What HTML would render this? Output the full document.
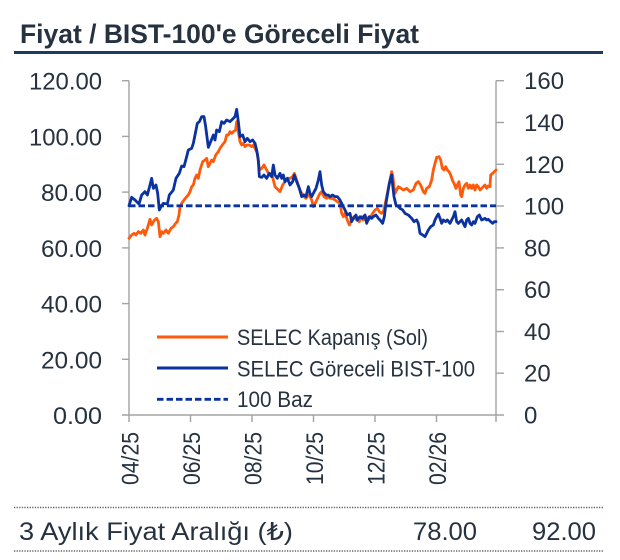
<!DOCTYPE html>
<html><head><meta charset="utf-8"><style>
html,body{margin:0;padding:0;background:#fff;}
svg{display:block;}
text{font-family:"Liberation Sans","DejaVu Sans",sans-serif;fill:#263240;}
</style></head><body>
<svg width="620" height="560" viewBox="0 0 620 560" xmlns="http://www.w3.org/2000/svg">
<rect width="620" height="560" fill="#fff"/>
<!-- Title -->
<text x="20" y="43" font-size="27" font-weight="bold" fill="#28313d" textLength="399" lengthAdjust="spacingAndGlyphs">Fiyat / BIST-100'e Göreceli Fiyat</text>
<rect x="14" y="51" width="589" height="3" fill="#1f3a5f"/>

<!-- Axes -->
<g stroke="#a3a3a3" stroke-width="1.4" fill="none">
<line x1="129" y1="80.7" x2="129" y2="415"/>
<line x1="496" y1="80.7" x2="496" y2="415"/>
<line x1="122" y1="415" x2="504" y2="415"/>
<line x1="122" y1="80.7" x2="129" y2="80.7"/>
<line x1="122" y1="136.4" x2="129" y2="136.4"/>
<line x1="122" y1="192.1" x2="129" y2="192.1"/>
<line x1="122" y1="247.9" x2="129" y2="247.9"/>
<line x1="122" y1="303.6" x2="129" y2="303.6"/>
<line x1="122" y1="359.3" x2="129" y2="359.3"/>
<line x1="496" y1="80.7" x2="504" y2="80.7"/>
<line x1="496" y1="122.5" x2="504" y2="122.5"/>
<line x1="496" y1="164.3" x2="504" y2="164.3"/>
<line x1="496" y1="206" x2="504" y2="206"/>
<line x1="496" y1="247.9" x2="504" y2="247.9"/>
<line x1="496" y1="289.7" x2="504" y2="289.7"/>
<line x1="496" y1="331.5" x2="504" y2="331.5"/>
<line x1="496" y1="373.2" x2="504" y2="373.2"/>
<line x1="129" y1="415" x2="129" y2="422"/>
<line x1="190.5" y1="415" x2="190.5" y2="422"/>
<line x1="252" y1="415" x2="252" y2="422"/>
<line x1="313.5" y1="415" x2="313.5" y2="422"/>
<line x1="375" y1="415" x2="375" y2="422"/>
<line x1="436.5" y1="415" x2="436.5" y2="422"/>
<line x1="496" y1="415" x2="496" y2="422"/>
</g>

<!-- Left labels -->
<g font-size="24" text-anchor="end">
<text x="102" y="89.7" textLength="73" lengthAdjust="spacingAndGlyphs">120.00</text>
<text x="102" y="145.4" textLength="73" lengthAdjust="spacingAndGlyphs">100.00</text>
<text x="102" y="201.1" textLength="61" lengthAdjust="spacingAndGlyphs">80.00</text>
<text x="102" y="256.9" textLength="61" lengthAdjust="spacingAndGlyphs">60.00</text>
<text x="102" y="312.6" textLength="61" lengthAdjust="spacingAndGlyphs">40.00</text>
<text x="102" y="368.3" textLength="61" lengthAdjust="spacingAndGlyphs">20.00</text>
<text x="102" y="424" textLength="49" lengthAdjust="spacingAndGlyphs">0.00</text>
</g>
<!-- Right labels -->
<g font-size="24">
<text x="524" y="89.2">160</text>
<text x="524" y="131">140</text>
<text x="524" y="172.8">120</text>
<text x="524" y="214.5">100</text>
<text x="524" y="256.4">80</text>
<text x="524" y="298.2">60</text>
<text x="524" y="340">40</text>
<text x="524" y="381.7">20</text>
<text x="524" y="423.5">0</text>
</g>
<!-- X labels -->
<g font-size="24" text-anchor="end">
<text transform="translate(138.5,432) rotate(-90)" textLength="53" lengthAdjust="spacingAndGlyphs">04/25</text>
<text transform="translate(200,432) rotate(-90)" textLength="53" lengthAdjust="spacingAndGlyphs">06/25</text>
<text transform="translate(261.5,432) rotate(-90)" textLength="53" lengthAdjust="spacingAndGlyphs">08/25</text>
<text transform="translate(323,432) rotate(-90)" textLength="53" lengthAdjust="spacingAndGlyphs">10/25</text>
<text transform="translate(384.5,432) rotate(-90)" textLength="53" lengthAdjust="spacingAndGlyphs">12/25</text>
<text transform="translate(446,432) rotate(-90)" textLength="53" lengthAdjust="spacingAndGlyphs">02/26</text>
</g>

<!-- Orange series -->
<g fill="none" stroke="#ff5a0a" stroke-width="2.8" stroke-linejoin="round" stroke-linecap="round">
<g transform="translate(60,60) scale(0.33333)">
<polyline vector-effect="non-scaling-stroke" points="207,535 215,525 222,520 228,525 235,515 242,520 250,510 255,525 262,505 270,478 275,495 282,482 290,475 295,485 300,530 305,515 310,520 318,510 325,520 333,505 340,500 347,490 352,485 357,465 360,440 365,430 372,420 380,410 385,405 390,395 395,380 400,375 405,355 410,345 415,355 420,330 428,305 435,300 440,295 445,320 450,310 455,300 460,305 467,285 475,275 480,265 487,255 495,245 500,225 505,225 510,215 515,220 520,215 527,210 530,185 535,215 540,245 545,255 550,250 555,260 560,255 568,255 575,260 580,255 585,265"/>
</g>
<g transform="translate(240,60) scale(0.33333)">
<polyline vector-effect="non-scaling-stroke" points="45,265 52,280 58,330 65,325 72,315 80,330 88,345 95,340 100,360 105,380 110,385 115,390 120,395 128,375 135,365 142,355 150,355 158,350 163,340 170,360 178,385 185,400 192,410 198,415 205,405 210,410 215,420 220,440 228,425 235,410 240,400 245,395 252,410 260,415 265,410 270,415 278,415 285,420 292,425 300,430 305,460 310,470 315,460 322,480 328,495 335,480 342,470 350,480 358,485 365,470 370,480 378,470 385,480 392,470 398,460 405,450 412,445 418,455 425,460 430,455 436,430 442,400 448,370 455,335 458,345 462,380 465,400 470,390 475,380 480,383"/>
</g>
<g transform="translate(400,60) scale(0.33333)">
<polyline vector-effect="non-scaling-stroke" points="0,383 10,390 20,385 30,395 40,390 48,370 55,365 62,375 70,395 75,400 80,385 88,380 95,360 100,330 105,310 110,292 117,290 122,300 127,325 132,330 137,320 142,330 147,335 152,345 157,360 162,370 168,385 172,375 177,365 182,405 185,410 190,385 195,375 200,370 205,385 210,375 215,385 220,375 225,390 230,375 235,380 240,390 245,385 250,380 255,375 260,385 265,378 270,380 272,345 278,340 283,335 288,330"/>
</g>
</g>

<!-- Blue series -->
<g fill="none" stroke="#0a32a0" stroke-width="2.8" stroke-linejoin="round" stroke-linecap="round">
<g transform="translate(60,60) scale(0.33333)">
<polyline vector-effect="non-scaling-stroke" points="207,437 215,412 225,420 237,432 245,405 255,395 262,405 270,375 275,355 280,385 288,375 293,400 298,450 303,440 310,430 322,432 328,405 340,390 348,355 358,340 365,318 372,320 380,290 385,270 395,265 400,250 407,215 412,190 418,185 425,170 432,170 437,200 445,262 452,245 460,225 465,240 470,210 478,215 485,185 492,190 500,180 510,185 520,175 525,170 530,148 535,185 540,230 548,225 555,245 562,235 570,245 578,240 585,250"/>
</g>
<g transform="translate(240,60) scale(0.33333)">
<polyline vector-effect="non-scaling-stroke" points="45,250 50,270 55,300 58,350 65,352 72,345 80,355 88,340 95,350 100,315 105,345 112,355 120,340 125,355 130,345 135,365 142,355 150,375 158,365 163,345 170,365 178,385 185,410 192,405 198,410 205,380 210,400 215,410 220,400 228,385 235,360 240,335 245,375 250,395 258,405 265,405 270,410 278,405 285,410 292,410 300,420 305,430 310,440 315,450 322,465 330,460 335,485 340,475 348,465 352,480 360,470 367,475 375,465 380,490 388,470 395,475 400,470 408,465 415,475 420,480 428,490 433,470 438,430 443,400 448,370 455,345 458,375 462,410 468,435 475,440 480,445"/>
</g>
<g transform="translate(400,60) scale(0.33333)">
<polyline vector-effect="non-scaling-stroke" points="0,445 8,450 15,460 25,465 35,475 42,485 50,480 55,490 60,520 68,525 75,530 80,520 85,510 92,500 100,495 105,480 110,470 115,462 120,475 125,490 130,480 137,485 142,480 150,490 155,480 160,470 165,455 170,485 175,490 180,485 185,480 190,490 195,500 200,480 205,475 210,490 215,495 220,485 225,490 232,470 238,465 245,480 250,478 255,475 260,480 265,478 272,485 278,490 283,485 288,485"/>
</g>
</g>

<!-- 100 baseline -->
<line x1="129" y1="205.8" x2="496" y2="205.8" stroke="#0a32a0" stroke-width="2.8" stroke-dasharray="6.5 3"/>

<!-- Legend -->
<line x1="157" y1="337" x2="228" y2="337" stroke="#ff5a0a" stroke-width="3"/>
<line x1="157" y1="368" x2="228" y2="368" stroke="#0a32a0" stroke-width="3"/>
<line x1="157" y1="399.3" x2="228" y2="399.3" stroke="#0a32a0" stroke-width="2.8" stroke-dasharray="6.5 3"/>
<g font-size="22">
<text x="237" y="345" textLength="191" lengthAdjust="spacingAndGlyphs">SELEC Kapanış (Sol)</text>
<text x="237" y="376.5" textLength="238" lengthAdjust="spacingAndGlyphs">SELEC Göreceli BIST-100</text>
<text x="237" y="407" textLength="76" lengthAdjust="spacingAndGlyphs">100 Baz</text>
</g>

<!-- Bottom table -->
<line x1="14" y1="507.5" x2="603" y2="507.5" stroke="#666" stroke-width="1.5" stroke-dasharray="1.3 1.3"/>
<line x1="14" y1="551" x2="603" y2="551" stroke="#666" stroke-width="1.5" stroke-dasharray="1.3 1.3"/>
<text x="19" y="540" font-size="25" textLength="274" lengthAdjust="spacingAndGlyphs">3 Aylık Fiyat Aralığı (₺)</text>
<text x="413" y="540" font-size="25" textLength="64" lengthAdjust="spacingAndGlyphs">78.00</text>
<text x="532" y="540" font-size="25" textLength="64" lengthAdjust="spacingAndGlyphs">92.00</text>
</svg>
</body></html>
